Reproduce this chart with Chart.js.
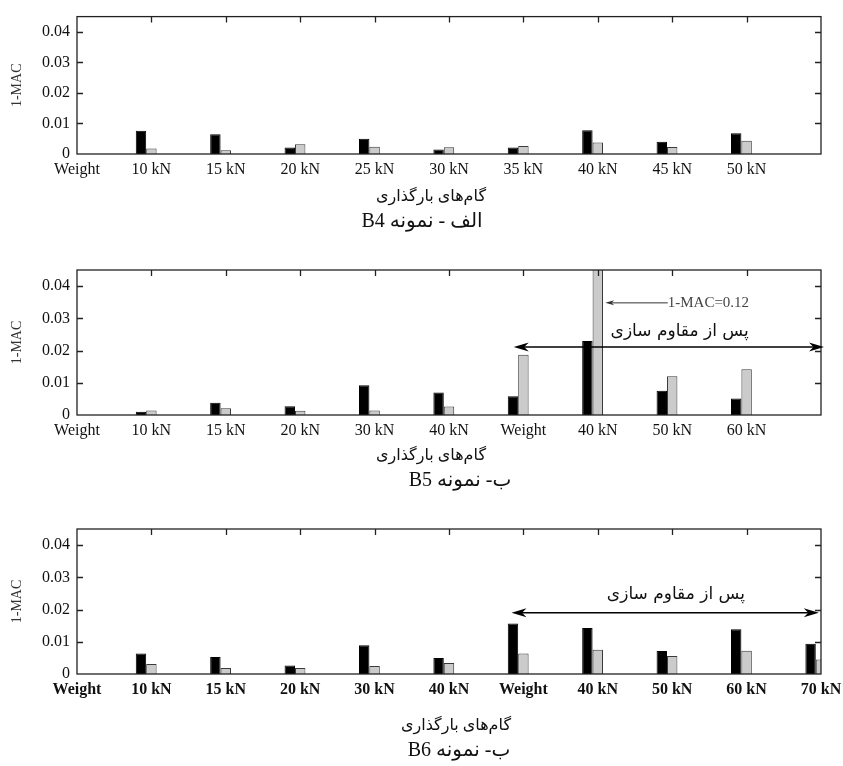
<!DOCTYPE html>
<html lang="fa">
<head>
<meta charset="UTF-8">
<title>1-MAC</title>
<script src="https://cdn.jsdelivr.net/npm/chart.js@4"></script>
<style>
  body { margin: 0; background: #fff; width: 843px; height: 766px; overflow: hidden; position: relative; }
  canvas { position: absolute; left: 0; }
</style>
</head>
<body>
<canvas id="chartB4" width="843" height="238" style="top:0px"></canvas>
<canvas id="chartB5" width="843" height="247" style="top:250px"></canvas>
<canvas id="chartB6" width="843" height="257" style="top:510px"></canvas>
<script>
// داده‌ها: ستون سیاه، ستون خاکستری و سری سوم (سفید)
const labelsB4 = ['Weight', '10 kN', '15 kN', '20 kN', '25 kN', '30 kN', '35 kN', '40 kN', '45 kN', '50 kN', ''];
const blackB4 = [null, 0.0076, 0.0065, 0.0021, 0.0050, 0.0015, 0.0021, 0.0078, 0.0040, 0.0068, null];
const grayB4 = [null, 0.0018, 0.0012, 0.0032, 0.0024, 0.0022, 0.0026, 0.0038, 0.0023, 0.0043, null];
const whiteB4 = [null, null, null, null, null, null, null, null, null, null, null];

const labelsB5 = ['Weight', '10 kN', '15 kN', '20 kN', '30 kN', '40 kN', 'Weight', '40 kN', '50 kN', '60 kN', ''];
const blackB5 = [null, 0.0010, 0.0038, 0.0027, 0.0092, 0.0070, 0.0058, 0.0230, 0.0075, 0.0051, null];
const grayB5 = [null, 0.0014, 0.0021, 0.0013, 0.0014, 0.0026, 0.0187, 0.12, 0.0120, 0.0142, null];
const whiteB5 = [null, null, null, null, null, null, null, null, null, null, null];

const labelsB6 = ['Weight', '10 kN', '15 kN', '20 kN', '30 kN', '40 kN', 'Weight', '40 kN', '50 kN', '60 kN', '70 kN'];
const blackB6 = [null, 0.0064, 0.0053, 0.0026, 0.0089, 0.0050, 0.0157, 0.0143, 0.0071, 0.0139, 0.0094];
const grayB6 = [null, 0.0031, 0.0019, 0.0019, 0.0025, 0.0034, 0.0064, 0.0075, 0.0056, 0.0072, 0.0045];
const whiteB6 = [null, null, null, null, null, null, null, null, null, null, 0.0098];

const yTicks = [0, 0.01, 0.02, 0.03, 0.04];

const serif = "'Liberation Serif', 'DejaVu Sans', serif";
const xTitle = 'گام‌های بارگذاری';
const afterText = 'پس از مقاوم سازی';

// قاب دور نمودار و تیک‌های رو به داخل
const framePlugin = {
    id: 'frame',
    afterDatasetsDraw(chart) {
        const {ctx, chartArea: a, scales: {x, y}} = chart;
        ctx.save();
        ctx.strokeStyle = '#222';
        ctx.lineWidth = 1.3;
        ctx.strokeRect(a.left, a.top, a.right - a.left, a.bottom - a.top);
        ctx.beginPath();
        y.ticks.forEach(t => {
            if (t.value === 0) return;
            const py = Math.round(y.getPixelForValue(t.value)) + 0.5;
            ctx.moveTo(a.left, py); ctx.lineTo(a.left + 6, py);
            ctx.moveTo(a.right, py); ctx.lineTo(a.right - 6, py);
        });
        for (let i = 1; i < x.ticks.length - 1; i++) {
            const px = Math.round(x.getPixelForTick(i)) + 0.5;
            ctx.moveTo(px, a.top); ctx.lineTo(px, a.top + 6);
        }
        ctx.stroke();
        ctx.restore();
    }
};

function arrowHead(ctx, x, y, dir, len, half) {
    ctx.beginPath();
    ctx.moveTo(x, y);
    ctx.lineTo(x - dir * len, y - half);
    ctx.lineTo(x - dir * len * 0.7, y);
    ctx.lineTo(x - dir * len, y + half);
    ctx.closePath();
    ctx.fill();
}

// فلش‌ها و نوشته‌های روی نمودار و زیر آن
const notesPlugin = {
    id: 'notes',
    afterDraw(chart, args, opts) {
        const {ctx, scales: {x, y}} = chart;
        ctx.save();
        if (opts.span) {
            const [from, to, level] = opts.span;
            const x1 = x.getPixelForValue(from), x2 = x.getPixelForValue(to), py = y.getPixelForValue(level);
            ctx.strokeStyle = '#000';
            ctx.fillStyle = '#000';
            ctx.lineWidth = 1.6;
            ctx.beginPath();
            ctx.moveTo(x1 + 6, py); ctx.lineTo(x2 - 6, py);
            ctx.stroke();
            arrowHead(ctx, x1, py, -1, 15, 4.5);
            arrowHead(ctx, x2, py, 1, 15, 4.5);
        }
        ctx.textAlign = 'center';
        ctx.textBaseline = 'middle';
        if (opts.label) {
            const [at, level] = opts.label;
            ctx.fillStyle = '#111';
            ctx.font = "17px 'DejaVu Sans', sans-serif";
            ctx.direction = 'rtl';
            ctx.fillText(afterText, x.getPixelForValue(at), y.getPixelForValue(level));
        }
        if (opts.callout) {
            const [from, to, level, text] = opts.callout;
            const x1 = x.getPixelForValue(from), x2 = x.getPixelForValue(to), py = y.getPixelForValue(level);
            ctx.strokeStyle = '#333';
            ctx.fillStyle = '#333';
            ctx.lineWidth = 1;
            ctx.beginPath();
            ctx.moveTo(x1 + 4, py); ctx.lineTo(x2, py);
            ctx.stroke();
            arrowHead(ctx, x1, py, -1, 9, 2.5);
            ctx.fillStyle = '#444';
            ctx.font = '15px ' + serif;
            ctx.textAlign = 'left';
            ctx.direction = 'ltr';
            ctx.fillText(text, x2, py);
        }
        // عنوان محور افقی و زیرنویس
        ctx.fillStyle = '#111';
        ctx.textAlign = 'center';
        ctx.direction = 'rtl';
        ctx.font = '16px ' + serif;
        ctx.fillText(xTitle, opts.titleAt[0], opts.titleAt[1]);
        ctx.font = '20px ' + serif;
        ctx.fillText(opts.caption, opts.captionAt[0], opts.captionAt[1]);
        ctx.restore();
    }
};

function makeChart(id, labels, black, gray, white, geo, notes) {
    return new Chart(document.getElementById(id), {
        type: 'bar',
        data: {
            labels: labels,
            datasets: [
                {data: black, backgroundColor: '#000', borderColor: '#000', borderWidth: 1},
                {data: gray, backgroundColor: '#cbcbcb', borderColor: '#3a3a3a', borderWidth: 1},
                {data: white, backgroundColor: '#fff', borderColor: '#3a3a3a', borderWidth: 1}
            ]
        },
        options: {
            responsive: false,
            animation: false,
            events: [],
            layout: {padding: {top: geo.top, right: 22, left: 0, bottom: geo.bottom}},
            datasets: {bar: {categoryPercentage: 0.42, barPercentage: 1}},
            scales: {
                x: {
                    offset: false,
                    grid: {display: false, drawTicks: false},
                    border: {display: false},
                    ticks: {autoSkip: false, maxRotation: 0, padding: 6, color: '#111', font: {family: serif, size: 16, weight: geo.bold ? 'bold' : 'normal'}},
                    afterFit: s => { s.height = 30; s.paddingRight = 0; s.paddingLeft = 0; }
                },
                y: {
                    min: 0,
                    max: 0.045,
                    grid: {display: false, drawTicks: false},
                    border: {display: false},
                    afterBuildTicks: s => { s.ticks = yTicks.map(v => ({value: v})); },
                    ticks: {
                        padding: 7, color: '#111', font: {family: serif, size: 16},
                        callback: v => v === 0 ? '0' : v.toFixed(2)
                    },
                    title: {display: true, text: '1-MAC', color: '#333', font: {family: serif, size: 14}, padding: {top: 9, bottom: 0}},
                    afterFit: s => { s.width = 77; }
                }
            },
            plugins: {
                legend: {display: false},
                tooltip: {enabled: false},
                notes: notes
            }
        },
        plugins: [framePlugin, notesPlugin]
    });
}

makeChart('chartB4', labelsB4, blackB4, grayB4, whiteB4, {top: 9, bottom: 54}, {
    caption: 'الف - نمونه B4', titleAt: [431, 197], captionAt: [422, 222]
});
makeChart('chartB5', labelsB5, blackB5, grayB5, whiteB5, {top: 20, bottom: 52}, {
    span: [5.87, 10.04, 0.0211],
    label: [8.1, 0.0258],
    callout: [7.1, 7.94, 0.0348, '1-MAC=0.12'],
    caption: 'ب- نمونه B5', titleAt: [431, 206], captionAt: [460, 231]
});
makeChart('chartB6', labelsB6, blackB6, grayB6, whiteB6, {top: 19, bottom: 63, bold: true}, {
    span: [5.84, 9.97, 0.019],
    label: [8.05, 0.0246],
    caption: 'ب- نمونه B6', titleAt: [456, 216], captionAt: [459, 241]
});
</script>
</body>
</html>
